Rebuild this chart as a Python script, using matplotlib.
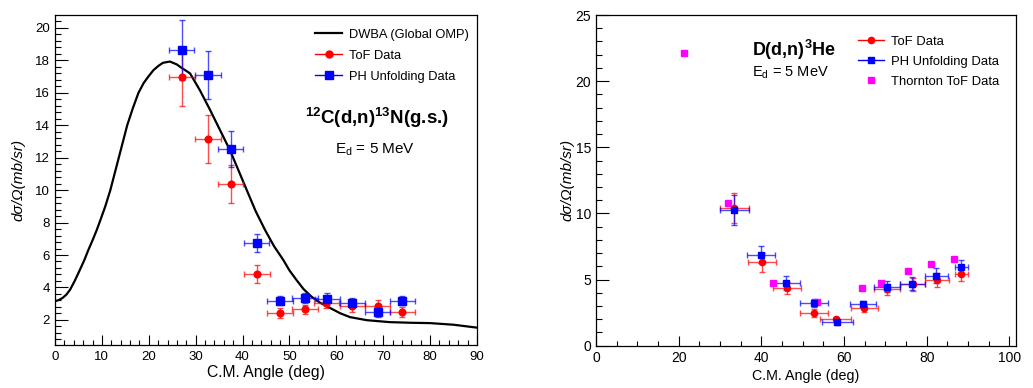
import numpy as np
import matplotlib
matplotlib.use("Agg")
import matplotlib.pyplot as plt
from matplotlib.lines import Line2D

plt.rcParams['font.family'] = ['Liberation Sans', 'DejaVu Sans']
plt.rcParams['mathtext.fontset'] = 'custom'
plt.rcParams['mathtext.rm'] = 'Liberation Sans'
plt.rcParams['mathtext.bf'] = 'Liberation Sans:bold'
plt.rcParams['mathtext.it'] = 'Liberation Sans:italic'

# ---- left panel: 12C(d,n)13N(g.s.) ----
dwba_angle = [0, 0.8, 1.6, 2.4, 3.2, 4.2, 5.3, 6.2, 7.1, 8.0, 8.9, 9.8, 10.7, 11.8, 12.7,
              13.6, 14.5, 15.4, 16.6, 17.8, 18.9, 19.9, 21.0, 22.0, 23.0, 24.5, 26.0,
              26.7, 28.8, 30.9, 33.1, 35.2, 37.3, 39.1, 40.9, 42.8, 44.8, 46.7, 48.7,
              50.0, 51.5, 53.0, 54.7, 56.4, 58.1, 60.8, 62.9, 66.5, 71.4, 76.0, 80.0,
              85.0, 90.0]
dwba_xs = [3.15, 3.22, 3.35, 3.55, 3.85, 4.4, 5.08, 5.65, 6.3, 6.9, 7.54, 8.25, 8.98, 10.0, 11.0,
           12.0, 13.0, 14.0, 15.05, 16.0, 16.6, 17.0, 17.4, 17.65, 17.85, 17.93, 17.75,
           17.6, 17.2, 16.16, 14.93, 13.7, 12.47, 11.24, 10.0, 8.7, 7.54, 6.55, 5.69,
           5.05, 4.46, 3.9, 3.43, 3.08, 2.82, 2.41, 2.17, 1.98, 1.86, 1.82, 1.8,
           1.7, 1.52]

c_tof_angle = [27.1, 32.6, 37.5, 43.1, 48.0, 53.3, 57.9, 63.4, 68.8, 74.1]
c_tof_xs = [17.0, 13.15, 10.37, 4.81, 2.41, 2.66, 3.03, 2.86, 2.86, 2.47]
c_tof_err = [1.8, 1.47, 1.15, 0.55, 0.3, 0.28, 0.3, 0.35, 0.35, 0.3]
c_ph_angle = [27.0, 32.6, 37.5, 43.0, 48.0, 53.3, 58.1, 63.4, 68.8, 74.1]
c_ph_xs = [18.65, 17.1, 12.55, 6.72, 3.19, 3.35, 3.29, 3.03, 2.47, 3.19]
c_ph_err = [1.85, 1.45, 1.1, 0.55, 0.3, 0.3, 0.35, 0.3, 0.3, 0.3]
c_angle_err = [2.7, 2.7, 2.7, 2.7, 2.7, 2.7, 2.7, 2.7, 2.7, 2.7]

# ---- right panel: D(d,n)3He ----
d_tof_angle = [33.4, 40.2, 46.2, 52.75, 57.95, 64.95, 70.45, 76.6, 82.5, 88.4]
d_tof_xs = [10.39, 6.3, 4.38, 2.5, 2.0, 2.82, 4.26, 4.65, 4.97, 5.42]
d_tof_err = [1.15, 0.7, 0.45, 0.3, 0.2, 0.25, 0.4, 0.5, 0.55, 0.55]
d_tof_aerr = [3.5, 3.4, 3.4, 3.35, 3.75, 3.15, 3.15, 3.05, 2.8, 1.5]
d_ph_angle = [33.5, 39.9, 45.9, 52.7, 58.3, 64.7, 70.3, 76.5, 82.3, 88.4]
d_ph_xs = [10.26, 6.88, 4.74, 3.2, 1.77, 3.15, 4.46, 4.69, 5.29, 5.93]
d_ph_err = [1.1, 0.65, 0.5, 0.3, 0.2, 0.25, 0.4, 0.5, 0.55, 0.55]
d_ph_aerr = [3.4, 3.4, 3.4, 3.35, 3.75, 3.15, 3.15, 3.05, 2.8, 1.5]
thornton_angle = [21.3, 31.9, 42.7, 53.4, 64.3, 69.0, 75.4, 81.1, 86.7]
thornton_xs = [22.1, 10.81, 4.71, 3.28, 4.34, 4.76, 5.67, 6.18, 6.55]

RED = '#ff0000'
BLUE = '#0000ff'
MAGENTA = '#ff00ff'

fig = plt.figure(figsize=(10.33, 3.88), dpi=100)
ax1 = fig.add_axes([55/1033, 43/388, 422/1033, 330/388])
ax2 = fig.add_axes([596/1033, 42.3/388, 420/1033, 330.7/388])


def style_axis(ax, xmaj, xmin, ymaj, ymin, fs):
    ax.set_xticks(xmaj)
    ax.set_xticks(xmin, minor=True)
    ax.set_yticks(ymaj)
    ax.set_yticks(ymin, minor=True)
    ax.tick_params(axis='both', which='both', direction='in', top=False, right=False,
                   labelsize=fs, colors='black', width=0.8)
    ax.tick_params(axis='y', which='major', length=9, pad=3.5)
    ax.tick_params(axis='y', which='minor', length=4.5)
    ax.tick_params(axis='x', which='major', length=7, pad=4)
    ax.tick_params(axis='x', which='minor', length=3.5)
    for s in ax.spines.values():
        s.set_linewidth(0.9)


def draw_err(ax, x, y, xe, ye, color, marker, ms):
    eb = ax.errorbar(x, y, xerr=xe, yerr=ye, fmt=marker, color=color, ms=ms,
                     mec=color, mfc=color, ecolor=color, elinewidth=1.0,
                     capsize=2, capthick=1.0)
    for part in eb[1] + eb[2]:
        part.set_alpha(0.7)
    return eb


# left
ax1.plot(dwba_angle, dwba_xs, color='black', lw=1.6, solid_joinstyle='round')
draw_err(ax1, c_tof_angle, c_tof_xs, c_angle_err, c_tof_err, RED, 'o', 4.8)
draw_err(ax1, c_ph_angle, c_ph_xs, c_angle_err, c_ph_err, BLUE, 's', 5.5)
ax1.set_xlim(0, 90)
ax1.set_ylim(0.45, 20.8)
style_axis(ax1, np.arange(0, 91, 10), np.arange(0, 91, 2),
           np.arange(2, 21, 2), np.arange(0.8, 20.8, 0.4), 9.5)
ax1.set_xlabel('C.M. Angle (deg)', fontsize=11.3, labelpad=2)
ax1.set_ylabel('dσ/Ω(mb/sr)', fontsize=11, style='italic', labelpad=7)

h1 = [Line2D([], [], color='black', lw=1.6),
      Line2D([], [], color=RED, marker='o', ms=5, lw=1),
      Line2D([], [], color=BLUE, marker='s', ms=5.5, lw=1)]
ax1.legend(h1, ['DWBA (Global OMP)', 'ToF Data', 'PH Unfolding Data'],
           loc='upper left', bbox_to_anchor=(0.616, 0.958), frameon=False,
           fontsize=9.3, handlelength=2.1, handletextpad=0.5, labelspacing=0.68,
           borderpad=0, borderaxespad=0)
ax1.text(0.592, 0.688, r'$^{\mathbf{12}}$C(d,n)$^{\mathbf{13}}$N(g.s.)', transform=ax1.transAxes,
         fontsize=13.5, fontweight='bold', va='center', ha='left')
ax1.text(0.664, 0.591, r'E$_{\mathrm{d}}$ = 5 MeV', transform=ax1.transAxes,
         fontsize=11, va='center', ha='left')

# right
draw_err(ax2, d_tof_angle, d_tof_xs, d_tof_aerr, d_tof_err, RED, 'o', 4.5)
draw_err(ax2, d_ph_angle, d_ph_xs, d_ph_aerr, d_ph_err, BLUE, 's', 5)
ax2.plot(thornton_angle, thornton_xs, 's', color=MAGENTA, ms=4.3, mec=MAGENTA, ls='none')
ax2.set_xlim(0, 101.6)
ax2.set_ylim(0, 25)
style_axis(ax2, np.arange(0, 101, 20), np.arange(0, 101, 5),
           np.arange(0, 26, 5), np.arange(0, 26, 1), 10)
ax2.set_xlabel('C.M. Angle (deg)', fontsize=10.3, labelpad=3)
ax2.set_ylabel('dσ/Ω(mb/sr)', fontsize=11, style='italic', labelpad=1)

h2 = [Line2D([], [], color=RED, marker='o', ms=4.5, lw=1),
      Line2D([], [], color=BLUE, marker='s', ms=5, lw=1),
      Line2D([], [], color=MAGENTA, marker='s', ms=4.3, ls='none')]
ax2.legend(h2, ['ToF Data', 'PH Unfolding Data', 'Thornton ToF Data'],
           loc='upper left', bbox_to_anchor=(0.624, 0.937), frameon=False,
           fontsize=9.4, handlelength=2.0, handletextpad=0.55, labelspacing=0.6,
           borderpad=0, borderaxespad=0)
ax2.text(0.371, 0.895, r'D(d,n)$^{\mathbf{3}}$He', transform=ax2.transAxes,
         fontsize=13, fontweight='bold', va='center', ha='left')
ax2.text(0.371, 0.826, r'E$_{\mathrm{d}}$ = 5 MeV', transform=ax2.transAxes,
         fontsize=10.5, va='center', ha='left')

fig.savefig('out.png', dpi=100)
